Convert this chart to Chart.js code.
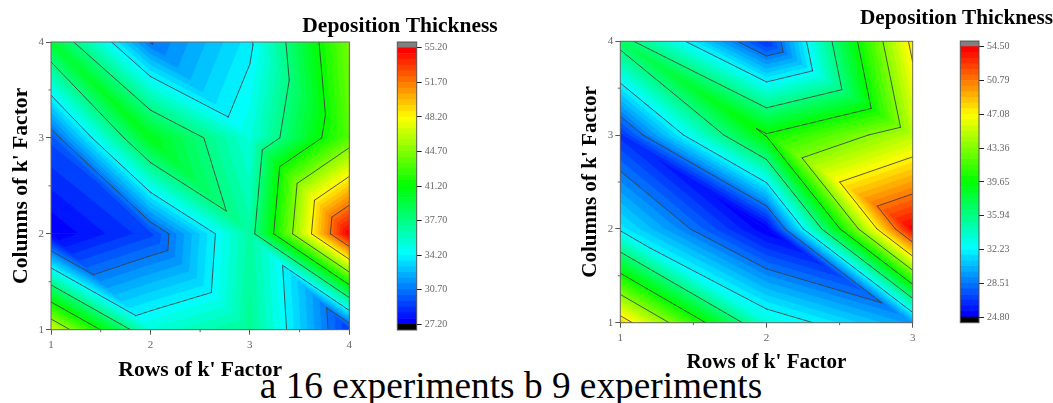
<!DOCTYPE html>
<html><head><meta charset="utf-8">
<style>
html,body{margin:0;padding:0;background:#fff;width:1053px;height:403px;overflow:hidden}
canvas{position:absolute}
#cap{position:absolute;left:0;width:1022px;top:364px;text-align:center;font:37.3px/44px "Liberation Serif",serif;color:#000;white-space:nowrap}
</style>
<script src="https://cdn.jsdelivr.net/npm/chart.js@4/dist/chart.umd.js"></script>
</head><body>
<div id="cap">a 16 experiments b 9 experiments</div>
<script>
// Panel a: 16 experiments
const rowsA = [1, 2, 3, 4];
const colsA = [1, 2, 3, 4];
const zA_col1 = [46.9, 35.4, 37.3, 28.9];
const zA_col2 = [27.2, 29.3, 36.8, 55.2];
const zA_col3 = [29.7, 40.6, 35.2, 43.5];
const zA_col4 = [39.8, 30.6, 33.9, 44.4];
const barTicksA = [27.2, 30.7, 34.2, 37.7, 41.2, 44.7, 48.2, 51.7, 55.2];
const barLabelsA = ['27.20','30.70','34.20','37.70','41.20','44.70','48.20','51.70','55.20'];
const minorXA = [1.5, 2.5, 3.5];
const minorYA = [1.5, 2.5, 3.5];
// Panel b: 9 experiments
const rowsB = [1, 2, 3];
const colsB = [1, 2, 3, 4];
const zB_col1 = [48.3, 33.5, 29.5];
const zB_col2 = [31.9, 24.8, 54.3];
const zB_col3 = [26.4, 39.85, 44.9];
const zB_col4 = [36.9, 26.4, 47.7];
const barTicksB = [24.8, 28.51, 32.23, 35.94, 39.65, 43.36, 47.08, 50.79, 54.5];
const barLabelsB = ['24.80','28.51','32.23','35.94','39.65','43.36','47.08','50.79','54.50'];
const minorXB = [1.5, 2.5];
const minorYB = [1.5, 2.5, 3.5];
const titleText = 'Deposition Thickness';
const xTitleText = "Rows of k' Factor";
const yTitleText = "Columns of k' Factor";
const bandCount = 48;
const rainbow = [[0,0,255],[0,255,255],[0,255,0],[255,255,0],[255,0,0]];

const SERIF = '"Liberation Serif", serif';
function bandColor(i){
  const t = i/(bandCount-1)*(rainbow.length-1);
  const k = Math.min(Math.floor(t), rainbow.length-2), f = t-k;
  const c = rainbow[k].map((v,j)=>Math.round(v+(rainbow[k+1][j]-v)*f));
  return `rgb(${c[0]},${c[1]},${c[2]})`;
}
function triangles(xs, ys, z){
  const out = [];
  for(let j=0;j<ys.length-1;j++) for(let i=0;i<xs.length-1;i++){
    const P=(a,b)=>({x:xs[a],y:ys[b],z:z[b][a]});
    out.push([P(i,j),P(i+1,j),P(i,j+1)]);
    out.push([P(i+1,j),P(i+1,j+1),P(i,j+1)]);
  }
  return out;
}
function clipAbove(poly, L){
  const res=[];
  for(let i=0;i<poly.length;i++){
    const a=poly[i], b=poly[(i+1)%poly.length];
    if(a.z>=L) res.push(a);
    if((a.z>=L)!==(b.z>=L)){
      const t=(L-a.z)/(b.z-a.z);
      res.push({x:a.x+(b.x-a.x)*t,y:a.y+(b.y-a.y)*t,z:L});
    }
  }
  return res;
}
function contourPlugin(xs, ys, z, barTicks, minorX, minorY){
  const tris = triangles(xs, ys, z);
  const lo = barTicks[0], hi = barTicks[barTicks.length-1];
  return {
    id:'contour',
    beforeDatasetsDraw(chart){
      const c=chart.ctx, sx=chart.scales.x, sy=chart.scales.y;
      const X=p=>sx.getPixelForValue(p.x), Y=p=>sy.getPixelForValue(p.y);
      c.save();
      const a=chart.chartArea;
      c.beginPath(); c.rect(a.left,a.top,a.right-a.left,a.bottom-a.top); c.clip();
      for(let i=0;i<bandCount;i++){
        const L = i===0 ? -Infinity : lo+(hi-lo)*i/bandCount;
        c.fillStyle=c.strokeStyle=bandColor(i); c.lineWidth=0.7; c.lineJoin='round';
        for(const t of tris){
          const poly=clipAbove(t,L);
          if(poly.length<3) continue;
          c.beginPath();
          poly.forEach((p,k)=>k?c.lineTo(X(p),Y(p)):c.moveTo(X(p),Y(p)));
          c.closePath(); c.fill(); c.stroke();
        }
      }
      c.strokeStyle='#3c3c3c'; c.lineWidth=0.85; c.lineCap='round';
      for(const L of barTicks.slice(1,-1)){
        for(const t of tris){
          const pts=[];
          for(let k=0;k<3;k++){
            const p=t[k], q=t[(k+1)%3];
            if((p.z>=L)!==(q.z>=L)){
              const f=(L-p.z)/(q.z-p.z);
              pts.push({x:p.x+(q.x-p.x)*f,y:p.y+(q.y-p.y)*f});
            }
          }
          if(pts.length===2){
            c.beginPath(); c.moveTo(X(pts[0]),Y(pts[0])); c.lineTo(X(pts[1]),Y(pts[1])); c.stroke();
          }
        }
      }
      c.restore();
    },
    afterDraw(chart){
      const c=chart.ctx, a=chart.chartArea, sx=chart.scales.x, sy=chart.scales.y;
      c.save();
      c.strokeStyle='#666'; c.lineWidth=1;
      c.strokeRect(a.left,a.top,a.right-a.left,a.bottom-a.top);
      c.beginPath();
      minorX.forEach(v=>{const p=sx.getPixelForValue(v); c.moveTo(p,a.bottom); c.lineTo(p,a.bottom+2.5);});
      minorY.forEach(v=>{const p=sy.getPixelForValue(v); c.moveTo(a.left,p); c.lineTo(a.left-2.5,p);});
      c.stroke();
      c.restore();
    }
  };
}
function makeCanvas(left, top, w, h){
  const cv=document.createElement('canvas');
  cv.width=w; cv.height=h;
  cv.style.left=left+'px'; cv.style.top=top+'px';
  cv.style.width=w+'px'; cv.style.height=h+'px';
  document.body.appendChild(cv);
  return cv;
}
function contourChart(g){
  const cv=makeCanvas(0+g.left,0,g.w,403);
  const pts=[];
  g.ys.forEach((y,j)=>g.xs.forEach((x,i)=>pts.push({x,y,z:g.z[j][i]})));
  new Chart(cv,{
    type:'scatter',
    data:{datasets:[{data:pts,pointRadius:0,showLine:false}]},
    options:{
      responsive:false,animation:false,devicePixelRatio:1,
      layout:{padding:{left:0,top:g.top,right:g.w-(g.right-g.left),bottom:0}},
      plugins:{legend:{display:false},tooltip:{enabled:false},title:{display:false}},
      scales:{
        x:{type:'linear',min:g.xs[0],max:g.xs[g.xs.length-1],
          ticks:{stepSize:1,color:'#666',font:{family:SERIF,size:11},padding:4,maxRotation:0,autoSkip:false},
          grid:{drawOnChartArea:false,tickLength:5,color:'#555',tickColor:'#555'},
          border:{color:'#666'},
          title:{display:true,text:xTitleText,color:'#000',font:{family:SERIF,size:g.labelSize,weight:'bold'},padding:{top:0,bottom:g.xTitlePad}},
          afterFit(s){s.height=403-g.bottom;}},
        y:{type:'linear',min:g.ys[0],max:g.ys[g.ys.length-1],
          ticks:{stepSize:1,color:'#666',font:{family:SERIF,size:11},padding:2,},
          grid:{drawOnChartArea:false,tickLength:5,color:'#555',tickColor:'#555'},
          border:{color:'#666'},
          title:{display:true,text:yTitleText,color:'#000',font:{family:SERIF,size:g.labelSize,weight:'bold'},padding:{top:g.yTitlePad,bottom:0}},
          afterFit(s){s.width=g.plotLeft-g.left;}}
      }
    },
    plugins:[contourPlugin(g.xs,g.ys,g.z,g.barTicks,g.minorX,g.minorY)]
  });
}
function colorBar(g){
  const cv=makeCanvas(g.left,0,g.w,g.h);
  const lo=g.ticks[0], hi=g.ticks[g.ticks.length-1], step=(hi-lo)/bandCount;
  const ds=[{data:[[lo-step,lo]],backgroundColor:'#000',yAxisID:'y'}];
  for(let i=0;i<bandCount;i++) ds.push({data:[[lo+step*i,lo+step*(i+1)]],backgroundColor:bandColor(i),yAxisID:'y'});
  ds.push({data:[[hi,hi+step]],backgroundColor:'#808080',yAxisID:'y'});
  new Chart(cv,{
    type:'bar',
    data:{labels:[''],datasets:ds},
    options:{
      responsive:false,animation:false,devicePixelRatio:1,indexAxis:'x',
      grouped:false,barPercentage:1,categoryPercentage:1,
      layout:{padding:{left:0,right:0,top:0,bottom:g.h-g.barBottom}},
      plugins:{legend:{display:false},tooltip:{enabled:false},
        title:{display:true,text:titleText,color:'#000',align:'center',
          font:{family:SERIF,size:g.titleSize,weight:'bold'},padding:{top:g.titleTop,bottom:g.titleBottom}}},
      scales:{
        x:{display:false},
        gutter:{position:'left',axis:'y',min:0,max:1,
          ticks:{display:false},grid:{display:false},border:{display:false},
          afterFit(s){s.width=g.barLeft-g.left;}},
        y:{position:'right',min:lo-step,max:hi+step,
          afterBuildTicks(s){s.ticks=g.ticks.map(v=>({value:v}));},
          afterFit(s){s.width=g.left+g.w-g.barRight;},
          ticks:{autoSkip:false,color:'#666',padding:3,font:{family:SERIF,size:10},
            callback(v){return g.labels[g.ticks.indexOf(v)];}},
          grid:{drawOnChartArea:false,tickLength:5,tickColor:'#222'},
          border:{display:false}}
      }
    },
    plugins:[{id:'frame',afterDraw(ch){
      const c=ch.ctx,a=ch.chartArea;
      c.save();c.strokeStyle='#555';c.lineWidth=1;
      c.strokeRect(a.left,a.top,a.right-a.left,a.bottom-a.top);c.restore();
    }}]
  });
}
contourChart({left:0,w:370,top:42,right:349.3,bottom:329.7,plotLeft:51,xs:rowsA,ys:colsA,labelSize:21.6,
  z:[zA_col1,zA_col2,zA_col3,zA_col4],barTicks:barTicksA,minorX:minorXA,minorY:minorYA,xTitlePad:20,yTitlePad:8});
colorBar({left:290,w:220,h:340,barLeft:397.3,barRight:416.7,barBottom:330,ticks:barTicksA,labels:barLabelsA,titleSize:21.5,titleTop:13.5,titleBottom:2.7});
contourChart({left:570,w:360,top:41.3,right:912.7,bottom:322.7,plotLeft:620.3,xs:rowsB,ys:colsB,labelSize:21.1,
  z:[zB_col1,zB_col2,zB_col3,zB_col4],barTicks:barTicksB,minorX:minorXB,minorY:minorYB,xTitlePad:28,yTitlePad:8});
colorBar({left:860,w:193,h:340,barLeft:960.3,barRight:979,barBottom:322.7,ticks:barTicksB,labels:barLabelsB,titleSize:21.3,titleTop:6,titleBottom:9.5});
</script>
</body></html>
